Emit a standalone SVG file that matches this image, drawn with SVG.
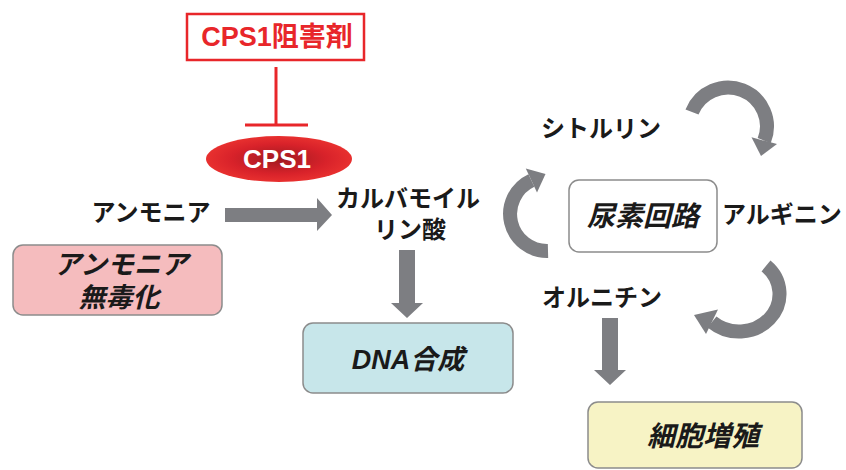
<svg xmlns="http://www.w3.org/2000/svg" width="846" height="470" viewBox="0 0 846 470">
  <defs>
    <radialGradient id="cpsGrad" cx="0.5" cy="0.5" r="0.5">
      <stop offset="0" stop-color="#9e1a20"/>
      <stop offset="0.65" stop-color="#d8222a"/>
      <stop offset="1" stop-color="#e8302f"/>
    </radialGradient>
    <style>
      .lbl { font-family: "Liberation Sans", "Noto Sans CJK JP", sans-serif; font-weight: bold; fill: #1a1a1a; text-anchor: middle; }
      .it { font-style: italic; }
      .box { stroke: #8c8c8c; stroke-width: 1.5; }
      .arr { fill: #7d7e82; }
      .arc { fill: none; stroke: #7d7e82; stroke-width: 14; }
      .red { stroke: #e8262a; fill: none; }
    </style>
  </defs>
  <rect width="846" height="470" fill="#ffffff"/>

  <g id="inhibitor">
    <rect x="187" y="14" width="177" height="46" class="red" stroke-width="2.5" fill="#ffffff"/>
    <text x="277" y="46" class="lbl" font-size="27" style="fill:#e8262a">CPS1阻害剤</text>
  </g>

  <g id="cps1">
    <ellipse cx="279" cy="159" rx="73" ry="23" fill="url(#cpsGrad)"/>
    <text x="277" y="168" class="lbl" font-size="26" style="fill:#ffffff">CPS1</text>
  </g>

  <g id="ammonia">
    <text x="151" y="221" class="lbl" font-size="24">アンモニア</text>
  </g>

  <g id="detox">
    <rect x="13" y="245" width="209" height="70" rx="10" class="box" fill="#f5bcbe"/>
    <text x="121" y="274" class="lbl it" font-size="27">アンモニア</text>
    <text x="119" y="307" class="lbl it" font-size="27">無毒化</text>
  </g>

  <g id="carbamoyl">
    <text x="408" y="207" class="lbl" font-size="24">カルバモイル</text>
    <text x="410" y="238" class="lbl" font-size="24">リン酸</text>
  </g>

  <g id="dna">
    <rect x="303" y="323" width="210" height="70" rx="10" class="box" fill="#c7e6ea"/>
    <text x="408" y="369" class="lbl it" font-size="27">DNA合成</text>
  </g>

  <g id="citrulline">
    <text x="601" y="137" class="lbl" font-size="24">シトルリン</text>
  </g>

  <g id="urea-cycle">
    <rect x="569" y="180" width="148" height="72" rx="10" class="box" fill="#ffffff" stroke="#777777"/>
    <text x="643" y="226" class="lbl it" font-size="28">尿素回路</text>
  </g>

  <g id="arginine">
    <text x="782" y="223" class="lbl" font-size="24">アルギニン</text>
  </g>

  <g id="ornithine">
    <text x="602" y="306" class="lbl" font-size="24">オルニチン</text>
  </g>

  <g id="proliferation">
    <rect x="588" y="402" width="214" height="66" rx="10" class="box" fill="#f7f3c5"/>
    <text x="703" y="446" class="lbl it" font-size="28">細胞増殖</text>
  </g>

  <g id="connectors">
    <!-- inhibition -->
    <line x1="276" y1="67" x2="276" y2="125" class="red" stroke-width="3"/>
    <line x1="245" y1="125" x2="308" y2="125" class="red" stroke-width="3"/>
    <!-- ammonia -> carbamoyl phosphate -->
    <polygon class="arr" points="225,208 317,208 317,198 332,215 317,231 317,222 225,222"/>
    <!-- carbamoyl phosphate -> DNA synthesis -->
    <polygon class="arr" points="399,250 415,250 415,303 423,303 407,318 391,303 399,303"/>
    <!-- ornithine -> proliferation -->
    <polygon class="arr" points="602,318 618,318 618,370 626,370 610,385 594,370 602,370"/>
    <!-- cycle: citrulline -> arginine -->
    <path class="arc" d="M 692 112 A 37.5 37.5 0 0 1 764.2 140.7"/>
    <polygon class="arr" points="751.5,137.3 777,144.1 761,156"/>
    <!-- cycle: arginine -> ornithine -->
    <path class="arc" d="M 766 266 A 40.5 37.5 0 0 1 712 322"/>
    <polygon class="arr" points="718,309.5 706,334 694,315"/>
    <!-- cycle: ornithine -> citrulline -->
    <path class="arc" d="M 548 251 A 37 37 0 0 1 531.4 180.5"/>
    <polygon class="arr" points="525.8,168.6 537,192.4 545.5,174"/>
  </g>
</svg>
